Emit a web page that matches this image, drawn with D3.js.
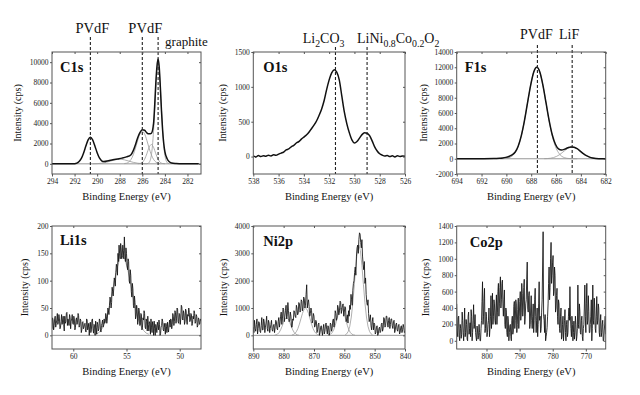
<!DOCTYPE html>
<html><head><meta charset="utf-8">
<script src="https://cdn.jsdelivr.net/npm/d3@7"></script>
<style>body{margin:0;background:#fff} svg{display:block}</style>
</head><body><svg id="c" width="640" height="395"></svg>
<script>
// ---------------- DATA ----------------
// C1s envelope
const c1sE = [294, 293.5, 293, 292.5, 292, 291.8, 291.6, 291.4, 291.2, 291.0, 290.8, 290.6, 290.4, 290.2, 290.0, 289.8, 289.6, 289.4, 289.0, 288.6, 288.2, 287.8, 287.4, 287.0, 286.8, 286.6, 286.4, 286.2, 286.0, 285.8, 285.6, 285.4, 285.2, 285.0, 284.9, 284.8, 284.7, 284.6, 284.5, 284.4, 284.3, 284.2, 284.1, 284.0, 283.8, 283.6, 283.4, 283.0, 282.5, 282, 281.5, 281];
const c1sI = [0, 0, 0, 0, 20, 70, 220, 530, 1070, 1750, 2350, 2620, 2350, 1750, 1100, 580, 300, 220, 300, 400, 480, 560, 680, 900, 1300, 1900, 2600, 3100, 3350, 3300, 3050, 2950, 3000, 4000, 5800, 8000, 9600, 10300, 9500, 7500, 5200, 3300, 2000, 1200, 500, 200, 80, 30, 0, 0, 0, 0];
// C1s fitted components
const c1sBroadE = [290.4, 290.0, 289.6, 289.2, 288.8, 288.4, 288.0, 287.6, 287.2, 286.8, 286.4, 286.0, 285.6];
const c1sBroadI = [5, 20, 61, 146, 273, 397, 450, 397, 273, 146, 61, 20, 5];
const c1sCOE = [287.6, 287.4, 287.2, 287.0, 286.8, 286.6, 286.4, 286.2, 286.0, 285.8, 285.6, 285.4, 285.2, 285.0, 284.8, 284.6, 284.4];
const c1sCOI = [19, 63, 180, 433, 889, 1558, 2324, 2954, 3200, 2954, 2324, 1558, 889, 433, 180, 63, 19];
const c1sCHE = [286.4, 286.2, 286.0, 285.8, 285.6, 285.4, 285.2, 285.0, 284.8, 284.6, 284.4, 284.2, 284.0];
const c1sCHI = [5, 32, 139, 437, 988, 1615, 1900, 1615, 988, 437, 139, 32, 5];
const c1sGrE = [285.6, 285.5, 285.4, 285.3, 285.2, 285.1, 285.0, 284.9, 284.8, 284.7, 284.6, 284.5, 284.4, 284.3, 284.2, 284.1, 284.0, 283.9, 283.8, 283.7, 283.6];
const c1sGrI = [10, 39, 124, 347, 842, 1782, 3307, 5346, 7524, 9247, 9900, 9247, 7524, 5346, 3307, 1782, 842, 347, 124, 39, 10];
const c1sXTicks = [294, 292, 290, 288, 286, 284, 282];
const c1sYTicks = [0, 2000, 4000, 6000, 8000, 10000];
const c1sMarks = [290.6, 286.0, 284.6];

// O1s (step 0.2 eV from 538)
const o1sStart = 538, o1sStep = 0.2;
const o1sI = [10, -5, 15, 0, 12, 5, 20, 8, 25, 18, 35, 50, 65, 95, 110, 140, 160, 195, 215, 250, 280, 310, 350, 400, 450, 510, 590, 680, 800, 960, 1100, 1200, 1245, 1210, 1100, 870, 640, 470, 340, 240, 195, 215, 265, 315, 340, 335, 300, 225, 140, 80, 40, 20, 8, 15, 0, 10, -5, 12, 0, 8, 5];
const o1sXTicks = [538, 536, 534, 532, 530, 528, 526];
const o1sYTicks = [0, 500, 1000, 1500];
const o1sMarks = [531.5, 529.0];

// F1s
const f1sE = [694, 693, 692, 691, 690.55, 690.3, 690.05, 689.8, 689.55, 689.3, 689.05, 688.8, 688.55, 688.3, 688.05, 687.8, 687.55, 687.3, 687.05, 686.8, 686.55, 686.3, 686.05, 685.8, 685.55, 685.3, 685.05, 684.8, 684.55, 684.3, 684.05, 683.8, 683.55, 683.3, 683.05, 682.8, 682.55, 682];
const f1sI = [0, 0, 5, 20, 60, 100, 180, 300, 500, 850, 1650, 3000, 4930, 7280, 9600, 11350, 12000, 11350, 9600, 7280, 4975, 3110, 1900, 1300, 1150, 1260, 1440, 1555, 1520, 1320, 1000, 670, 400, 210, 100, 40, 15, 0];
const f1sPvdfE = [690.55, 690.3, 690.05, 689.8, 689.55, 689.3, 689.05, 688.8, 688.55, 688.3, 688.05, 687.8, 687.55, 687.3, 687.05, 686.8, 686.55, 686.3, 686.05, 685.8, 685.55, 685.3, 685.05, 684.8, 684.55, 684.3];
const f1sPvdfI = [5, 14, 47, 132, 336, 790, 1620, 2990, 4930, 7280, 9600, 11350, 12000, 11350, 9600, 7280, 4930, 2990, 1620, 790, 336, 132, 47, 14, 4, 1];
const f1sLifE = [686.95, 686.7, 686.45, 686.2, 685.95, 685.7, 685.45, 685.2, 684.95, 684.7, 684.45, 684.2, 683.95, 683.7, 683.45, 683.2, 682.95, 682.7, 682.45];
const f1sLifI = [9, 26, 68, 155, 315, 550, 870, 1200, 1455, 1550, 1455, 1200, 870, 550, 315, 155, 68, 26, 9];
const f1sXTicks = [694, 692, 690, 688, 686, 684, 682];
const f1sYTicks = [-2000, 0, 2000, 4000, 6000, 8000, 10000, 12000, 14000];
const f1sMarks = [687.5, 684.7];

// Li1s (step 0.05 eV from 62)
const li1sStart = 62, li1sStep = 0.05;
const li1sI = [
  12,32, 28,10, 18,30, 35,15, 22,28, 40,20, 25,38, 30,12, 15,25, 38,20, 28,35, 20,8, 35,22, 25,40, 42,18, 30,26, 18,38, 33,12, 26,30, 38,22, 20,35, 30,10, 14,28, 32,20, 24,40, 36,15, 18,30, 28,5, 10,24, 25,12, 15,20,
  22,8, 6,30, 28,10, 14,22, 0,16, 24,5, 10,28, 30,12, 4,20, 18,0, 26,14, 2,24, 20,8, 12,30, 28,10, 6,18, 22,28, 15,20, 30,22,
  25,40, 35,22, 30,50, 45,38, 55,70, 65,50, 60,88, 80,72, 85,105, 100,90, 115,130,
  125,110, 150,135, 165,150, 140,168, 160,140, 145,165, 155,140, 180,150, 135,160, 150,128,
  120,140, 135,100, 95,120, 110,80, 70,95, 85,55, 50,72, 60,30, 35,55, 48,20,
  30,50, 45,18, 20,40, 38,10, 15,32, 28,45, 40,15, 12,30, 25,8, 35,20,
  8,25, 22,2, 30,15, 5,25, 18,0, 26,12, 0,20, 15,5, 24,18, 10,28, 20,0, 3,15, 18,30, 25,10, 8,22, 14,2, 22,16, 5,24, 12,6, 20,28,
  15,30, 28,12, 20,40, 35,18, 25,45, 42,22, 30,50, 48,25, 22,40, 38,20, 30,55, 52,30, 28,45, 40,20, 25,48, 45,28, 20,38, 35,50, 42,25, 28,40, 38,18, 22,35, 30,45, 40,22, 25,38, 35,15, 18,32, 30,20, 22,30, 26];
const li1sFitE = [57.9, 57.65, 57.4, 57.15, 56.9, 56.65, 56.4, 56.15, 55.9, 55.65, 55.4, 55.15, 54.9, 54.65, 54.4, 54.15, 53.9, 53.65, 53.4, 53.15, 52.9];
const li1sFitI = [2, 4, 9, 17, 30, 49, 72, 99, 122, 139, 145, 139, 122, 99, 72, 49, 30, 17, 9, 4, 2];
const li1sXTicks = [60, 55, 50];
const li1sYTicks = [0, 50, 100, 150, 200];

// Ni2p (step 0.2 eV from 890)
const ni2pStart = 890, ni2pStep = 0.2;
const ni2pI = [
  300,100, 550,250, 150,400, 600,50, 250,500, 450,150, 100,350, 650,200, 200,600, 500,100, 300,450, 700,250, 150,550, 450,100, 250,400, 550,200, 150,350, 400,100, 300,550, 500,250,
  200,500, 650,300, 450,700, 850,400, 600,1000, 950,500, 700,900, 1100,600, 750,1200, 900,500, 550,850, 700,300, 300,600, 550,900, 850,700, 650,1100, 1000,750, 800,1200, 1150,850, 900,1300,
  1250,900, 1000,1400, 1350,1000, 1100,1500, 1850,1000, 1200,1300, 1050,700, 800,1000, 900,450, 550,800, 700,300, 350,550, 500,100, 200,400, 450,0, 100,300, 350,150, 0,250, 400,50, 150,400,
  450,200, 50,350, 300,0, 100,450, 400,150, 250,550, 600,300, 450,900, 800,550, 650,1100, 1000,750, 900,1250, 1200,800, 950,1100, 1150,700, 850,1050, 1000,500, 600,750, 450,900, 700,1100,
  950,1500, 1300,1100, 1650,1900, 2000,2300, 2500,2200, 2900,3200, 3300,3000, 3500,3750, 3700,3400, 3200,3500, 2900,2600, 2400,2700, 1900,2100, 1500,1200, 1100,1300, 800,500, 600,750, 350,200, 500,650, 200,450,
  400,50, 100,300, 350,0, 50,250, 300,100, 150,400, 450,150, 250,650, 600,300, 350,700, 700,450, 300,550, 650,250, 400,600, 600,350, 250,500, 550,100, 200,400, 450,200, 150,350,
  400,50, 100,300, 350,100, 200,400, 300,100, 150];
const ni2pFit1E = [883, 882.5, 882, 881.5, 881, 880.5, 880, 879.5, 879, 878.5, 878, 877.5, 877, 876.5, 876, 875.5, 875];
const ni2pFit1I = [6, 18, 45, 102, 199, 334, 484, 604, 650, 604, 484, 334, 199, 102, 45, 18, 6];
const ni2pFit2E = [877.3, 876.8, 876.3, 875.8, 875.3, 874.8, 874.3, 873.8, 873.3, 872.8, 872.3, 871.8, 871.3, 870.8, 870.3, 869.8, 869.3, 868.8, 868.3];
const ni2pFit2I = [11, 28, 66, 135, 249, 411, 607, 801, 946, 1000, 946, 801, 607, 411, 249, 135, 66, 28, 11];
const ni2pFit3E = [865.5, 865, 864.5, 864, 863.5, 863, 862.5, 862, 861.5, 861, 860.5, 860, 859.5, 859, 858.5, 858, 857.5, 857, 856.5];
const ni2pFit3I = [6, 17, 44, 100, 203, 360, 563, 775, 938, 1000, 938, 775, 563, 360, 203, 100, 44, 17, 6];
const ni2pFit4E = [859.7, 859.2, 858.7, 858.2, 857.7, 857.2, 856.7, 856.2, 855.7, 855.2, 854.7, 854.2, 853.7, 853.2, 852.7, 852.2, 851.7, 851.2, 850.7];
const ni2pFit4I = [20, 56, 145, 330, 670, 1188, 1858, 2558, 3095, 3300, 3095, 2558, 1858, 1188, 670, 330, 145, 56, 20];
const ni2pXTicks = [890, 880, 870, 860, 850, 840];
const ni2pYTicks = [0, 1000, 2000, 3000, 4000];

// Co2p (step 0.15 eV from 809)
const co2pStart = 809, co2pStep = 0.15;
const co2pI = [
  450,120, 50,280, 300,60, 0,200, 150,30, 80,350, 250,100, 0,180, 400,50, 100,260, 200,20, 0,300, 350,80, 150,220, 50,380, 300,0, 100,250, 440,150, 200,320, 100,40,
  0,180, 120,20, 60,200, 100,0, 0,150, 250,480, 720,200, 300,520, 640,100, 150,350, 300,50, 100,200, 250,400, 50,150, 300,550, 150,300, 580,200, 300,500, 450,250, 200,400,
  560,200, 350,600, 700,300, 450,650, 780,400, 500,700, 740,450, 300,500, 620,200, 150,400, 350,100, 50,300, 240,0, 100,180, 200,50, 0,250, 300,80, 120,420, 480,150, 250,500,
  450,100, 200,380, 520,150, 300,480, 600,250, 350,700, 580,300, 400,650, 750,200, 300,450, 500,750, 960,400, 350,550, 600,150, 200,400, 550,250, 150,300, 450,100, 250,500, 640,300,
  100,250, 400,50, 200,450, 720,250, 300,100, 150,350, 500,900, 1330,300, 250,100, 320,0, 50,100, 160,300, 450,700, 900,500, 650,1000, 1200,700, 800,950, 1040,550, 600,900, 800,350,
  400,550, 640,300, 200,500, 450,150, 100,300, 400,20, 50,200, 300,0, 120,250, 380,100, 0,200, 250,50, 100,300, 400,250, 660,300, 150,50, 300,200, 0,100, 240,20, 100,300,
  200,0, 50,150, 680,200, 150,450, 360,100, 80,250, 300,50, 0,150, 200,400, 680,300, 100,450, 700,200, 250,550, 360,100, 100,200, 300,500, 0,150, 680,250, 200,520, 400,150,
  100,300, 540,200, 250,450, 400,100, 50,250, 320,50, 100,200, 250,0, 0,120, 200,300, 80];
const co2pXTicks = [800, 790, 780, 770];
const co2pYTicks = [0, 200, 400, 600, 800, 1000, 1200, 1400];

// ---------------- DRAWING ----------------
const FONT = '"Liberation Serif", serif';
const svg = d3.select('#c');
const uni = (start, step, arr) => arr.map((v, i) => ({e: start - i * step, v}));
const pairs = (E, I) => E.map((e, i) => ({e, v: I[i]}));

const panels = [
  {label: 'C1s', left: 52, right: 201, top: 52, bottom: 174, xd: [294, 280.8], yd: [-1000, 11000],
   xt: c1sXTicks, yt: c1sYTicks, titleOff: 34.5, lDx: 8, lDy: 20, base: true, smooth: true,
   comps: [pairs(c1sBroadE, c1sBroadI), pairs(c1sCOE, c1sCOI), pairs(c1sCHE, c1sCHI), pairs(c1sGrE, c1sGrI)],
   data: pairs(c1sE, c1sI), marks: c1sMarks, markTop: 37},
  {label: 'O1s', left: 253.3, right: 405, top: 52, bottom: 174, xd: [538, 526], yd: [-250, 1500],
   xt: o1sXTicks, yt: o1sYTicks, titleOff: 31, lDx: 10, lDy: 20, base: false, smooth: true,
   comps: [], data: uni(o1sStart, o1sStep, o1sI), marks: o1sMarks, markTop: 47},
  {label: 'F1s', left: 456.7, right: 605.7, top: 52, bottom: 174, xd: [694, 682], yd: [-2000, 14000],
   xt: f1sXTicks, yt: f1sYTicks, titleOff: 33, lDx: 8, lDy: 20, base: true, smooth: true,
   comps: [pairs(f1sPvdfE, f1sPvdfI), pairs(f1sLifE, f1sLifI)],
   data: pairs(f1sE, f1sI), marks: f1sMarks, markTop: 45},
  {label: 'Li1s', left: 52, right: 201, top: 226, bottom: 349, xd: [62, 48], yd: [-25, 200],
   xt: li1sXTicks, yt: li1sYTicks, titleOff: 28, lDx: 8, lDy: 19, base: true, smooth: false,
   comps: [pairs(li1sFitE, li1sFitI)], data: uni(li1sStart, li1sStep, li1sI), marks: [], markTop: 0},
  {label: 'Ni2p', left: 253.3, right: 405, top: 226, bottom: 349, xd: [890, 840], yd: [-500, 4000],
   xt: ni2pXTicks, yt: ni2pYTicks, titleOff: 29.5, lDx: 10, lDy: 20, base: true, smooth: false,
   comps: [pairs(ni2pFit1E, ni2pFit1I), pairs(ni2pFit2E, ni2pFit2I), pairs(ni2pFit3E, ni2pFit3I), pairs(ni2pFit4E, ni2pFit4I)],
   data: uni(ni2pStart, ni2pStep, ni2pI), marks: [], markTop: 0},
  {label: 'Co2p', left: 456.7, right: 605.7, top: 226, bottom: 349, xd: [809, 764], yd: [-100, 1400],
   xt: co2pXTicks, yt: co2pYTicks, titleOff: 31.5, lDx: 13, lDy: 21, base: false, smooth: false,
   comps: [], data: uni(co2pStart, co2pStep, co2pI), marks: [], markTop: 0}
];

panels.forEach((p, idx) => {
  const x = d3.scaleLinear().domain(p.xd).range([p.left, p.right]);
  const y = d3.scaleLinear().domain(p.yd).range([p.bottom, p.top]);
  const g = svg.append('g');
  const cid = 'clip' + idx;
  svg.append('clipPath').attr('id', cid).append('rect')
    .attr('x', p.left).attr('y', p.top).attr('width', p.right - p.left).attr('height', p.bottom - p.top);
  const plot = g.append('g').attr('clip-path', `url(#${cid})`);

  if (p.base) {
    plot.append('line').attr('x1', x(p.xd[0])).attr('x2', x(p.xd[1])).attr('y1', y(0)).attr('y2', y(0))
      .attr('stroke', '#8a8a8a').attr('stroke-width', 0.9);
  }
  const line = d3.line().x(d => x(d.e)).y(d => y(d.v))
    .curve(p.smooth ? d3.curveMonotoneX : d3.curveLinear);
  p.comps.forEach(c => {
    plot.append('path').attr('d', line(c)).attr('fill', 'none').attr('stroke', '#9a9a9a').attr('stroke-width', 0.8);
  });
  plot.append('path').attr('d', line(p.data)).attr('fill', 'none').attr('stroke', '#111')
    .attr('stroke-width', p.smooth ? 1.5 : 0.85).attr('stroke-linejoin', 'round');

  p.marks.forEach(m => {
    g.append('line').attr('x1', x(m)).attr('x2', x(m)).attr('y1', p.markTop).attr('y2', p.bottom)
      .attr('stroke', '#222').attr('stroke-width', 1.1).attr('stroke-dasharray', '3,2');
  });

  g.append('rect').attr('x', p.left).attr('y', p.top).attr('width', p.right - p.left).attr('height', p.bottom - p.top)
    .attr('fill', 'none').attr('stroke', '#555').attr('stroke-width', 1);

  const fmt = d => String(d);
  const ax = g.append('g').attr('transform', `translate(0,${p.bottom})`)
    .call(d3.axisBottom(x).tickValues(p.xt).tickSize(2.5).tickPadding(2).tickFormat(fmt));
  const ay = g.append('g').attr('transform', `translate(${p.left},0)`)
    .call(d3.axisLeft(y).tickValues(p.yt).tickSize(2).tickPadding(1.5).tickFormat(fmt));
  const at = g.append('g').attr('transform', `translate(0,${p.top})`)
    .call(d3.axisTop(x).tickValues(p.xt).tickSize(-2).tickFormat(''));
  const ar = g.append('g').attr('transform', `translate(${p.right},0)`)
    .call(d3.axisRight(y).tickValues(p.yt).tickSize(-2).tickFormat(''));
  [ax, ay, at, ar].forEach(a => {
    a.attr('font-family', null);
    a.select('.domain').remove();
    a.selectAll('line').attr('stroke', '#555');
    a.selectAll('text').style('font-family', FONT).attr('font-size', 7.5).attr('fill', '#222');
  });

  g.append('text').attr('x', (p.left + p.right) / 2).attr('y', p.bottom + 25.5)
    .attr('text-anchor', 'middle').style('font-family', FONT).attr('font-size', 10.5).attr('fill', '#111')
    .text('Binding Energy (eV)');
  g.append('text').attr('transform', `translate(${p.left - p.titleOff},${(p.top + p.bottom) / 2}) rotate(-90)`)
    .attr('text-anchor', 'middle').attr('dominant-baseline', 'central')
    .style('font-family', FONT).attr('font-size', 10).attr('fill', '#111')
    .text('Intensity (cps)');
  g.append('text').attr('x', p.left + p.lDx).attr('y', p.top + p.lDy)
    .style('font-family', FONT).attr('font-size', 14.5).attr('font-weight', 'bold').attr('fill', '#111')
    .text(p.label);
  p.x = x;
});

// ---------------- ANNOTATIONS ----------------
function annot(xpos, ypos, anchor, parts, size) {
  const t = svg.append('text').attr('x', xpos).attr('y', ypos).attr('text-anchor', anchor)
    .style('font-family', FONT).attr('font-size', size).attr('fill', '#111');
  let sub = false;
  parts.forEach(([s, isSub]) => {
    const ts = t.append('tspan').text(s).attr('font-size', isSub ? size * 0.7 : size);
    if (isSub && !sub) ts.attr('dy', 3.5);
    if (!isSub && sub) ts.attr('dy', -3.5);
    sub = isSub;
  });
}
const pC = panels[0], pO = panels[1], pF = panels[2];
annot(pC.x(c1sMarks[0]) + 2, 33, 'middle', [['PVdF', false]], 14.5);
annot(pC.x(c1sMarks[1]) + 3, 33, 'middle', [['PVdF', false]], 14.5);
annot(pC.x(c1sMarks[2]) + 7, 46, 'start', [['graphite', false]], 13);
annot(pO.x(o1sMarks[0]) + 9, 43, 'end', [['Li', false], ['2', true], ['CO', false], ['3', true]], 14);
annot(pO.x(o1sMarks[1]) - 10, 43, 'start', [['LiNi', false], ['0.8', true], ['Co', false], ['0.2', true], ['O', false], ['2', true]], 14);
annot(pF.x(f1sMarks[0]) - 1, 39, 'middle', [['PVdF', false]], 14);
annot(pF.x(f1sMarks[1]) - 3, 39, 'middle', [['LiF', false]], 14);
</script>
</body></html>
